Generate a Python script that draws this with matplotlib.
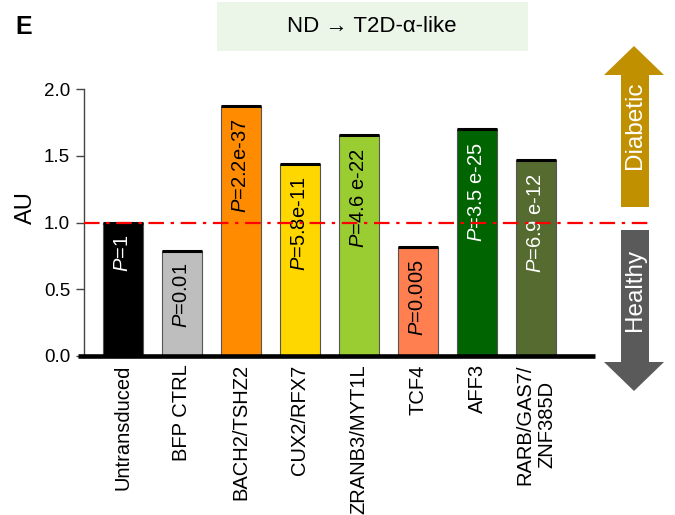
import numpy as np
import matplotlib
matplotlib.use("Agg")
from matplotlib import pyplot as plt
from matplotlib.patches import Polygon, Rectangle

plt.rcParams['font.family'] = ['Liberation Sans', 'DejaVu Sans']
plt.rcParams['mathtext.fontset'] = 'custom'
plt.rcParams['mathtext.rm'] = 'Liberation Sans'
plt.rcParams['mathtext.it'] = 'Liberation Sans:italic'

# data
groups = ['Untransduced', 'BFP CTRL', 'BACH2/TSHZ2', 'CUX2/RFX7',
          'ZRANB3/MYT1L', 'TCF4', 'AFF3', 'RARB/GAS7/\nZNF385D']
au = [1.0, 0.79, 1.875, 1.44, 1.655, 0.82, 1.70, 1.465]
pvals = ['1', '0.01', '2.2e-37', '5.8e-11', '4.6 e-22', '0.005',
         '3.5 e-25', '6.9 e-12']
colors = ['#000000', '#bebebe', '#ff8c00', '#ffd700', '#9acd32',
          '#ff7f50', '#006400', '#556b2f']
txt_colors = ['white', 'black', 'black', 'black', 'black', 'black',
              'white', 'white']
baseline = 1.0

W, H = 675, 515
fig = plt.figure(figsize=(W/100, H/100), dpi=100)

def fx(px):
    return px / W

def fy(py):
    return 1 - py / H

ax = fig.add_axes([fx(84), fy(356), fx(595) - fx(84), fy(89) - fy(356)])

x = np.arange(len(groups))
bw = 0.68
ax.bar(x, au, width=bw, color=colors, edgecolor='#555555', linewidth=0.8,
       zorder=2)
ax.hlines(au, x - bw/2, x + bw/2, color='black', lw=2.2, zorder=3)

for xi, h, p, c in zip(x, au, pvals, txt_colors):
    ax.text(xi, h - 0.095, r'$\mathit{P}$=' + p, rotation=90, ha='center',
            va='top', color=c, fontsize=14.5, zorder=4)

ax.set_xlim(-0.661, 8.0)
ax.set_ylim(0, 2.0)
ax.set_yticks([0, 0.5, 1.0, 1.5, 2.0])
ax.set_yticklabels(['0.0', '0.5', '1.0', '1.5', '2.0'])
ax.set_xticks(x)
ax.set_xticklabels(groups, rotation=90, fontsize=14.5, va='top',
                   ha='center')
ax.tick_params(axis='x', length=0, pad=6)
ax.tick_params(axis='y', length=6, width=1, color='#444444', pad=4,
               labelsize=13.5, direction='out')

for s in ['top', 'right', 'bottom']:
    ax.spines[s].set_visible(False)
ax.spines['left'].set_color('#444444')
ax.spines['left'].set_linewidth(1)

# thick baseline
ax.plot([-0.765, 8.0], [0, 0], color='black', lw=3.3, clip_on=False,
        solid_capstyle='butt', zorder=5)
# reference line at 1.0
ax.plot([-0.661, 8.95], [baseline, baseline], color='#ff0000', lw=1.6,
        ls=(0, (7, 3, 1.5, 3)), clip_on=False, zorder=6)

ax.set_ylabel('AU', fontsize=17)
ax.yaxis.set_label_coords(-0.092, 0.555)

# title box
fig.add_artist(Rectangle((fx(217), fy(51)), fx(528) - fx(217),
                         fy(2) - fy(51), transform=fig.transFigure,
                         facecolor='#ebf5e8', edgecolor='none'))
fig.text(fx(372), fy(27), 'ND \u2192 T2D-\u03b1-like', ha='center',
         va='center', fontsize=16)

fig.text(fx(15), fy(27), 'E', fontsize=18, fontweight='bold',
         va='center', ha='left')

# diabetic / healthy arrows
up = [(621, 207), (649, 207), (649, 75), (664, 75), (634, 46),
      (604, 75), (621, 75)]
down = [(621, 230), (649, 230), (649, 362), (664, 362), (634, 391),
        (604, 362), (621, 362)]
for pts, col in [(up, '#c09000'), (down, '#5a5a5a')]:
    fig.add_artist(Polygon([(fx(a), fy(b)) for a, b in pts], closed=True,
                           transform=fig.transFigure, facecolor=col,
                           edgecolor='none'))
fig.text(fx(635), fy(125), 'Diabetic', rotation=90, ha='center',
         va='center', color='white', fontsize=17.5)
fig.text(fx(635), fy(290), 'Healthy', rotation=90, ha='center',
         va='center', color='white', fontsize=17.5)

fig.savefig('out.png', dpi=100)
